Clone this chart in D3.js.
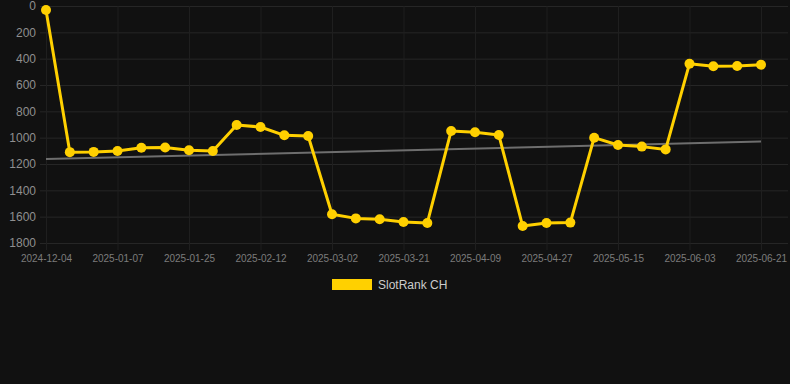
<!DOCTYPE html>
<html>
<head>
<meta charset="utf-8">
<script src="https://cdn.jsdelivr.net/npm/d3@7"></script>
<style>
html,body{margin:0;padding:0;background:#111111;}
svg{display:block;}
</style>
</head>
<body>
<svg id="chart" width="790" height="384"></svg>
<script>
const categories = [
  "2024-12-04","2024-12-15","2024-12-26","2025-01-07","2025-01-13","2025-01-19",
  "2025-01-25","2025-01-31","2025-02-06","2025-02-12","2025-02-18","2025-02-24",
  "2025-03-02","2025-03-08","2025-03-14","2025-03-21","2025-03-27","2025-04-03",
  "2025-04-09","2025-04-15","2025-04-21","2025-04-27","2025-05-03","2025-05-09",
  "2025-05-15","2025-05-21","2025-05-27","2025-06-03","2025-06-09","2025-06-15",
  "2025-06-21"
];
const rankValues = [
  30,1110,1108,1101,1076,1075,1096,1101,904,919,982,987,
  1582,1613,1620,1640,1648,949,959,980,1671,1648,1645,
  1000,1056,1068,1089,438,458,456,446
];
const trendValues = [1162, 1030];
const tickLabels = ["2024-12-04","2025-01-07","2025-01-25","2025-02-12","2025-03-02",
  "2025-03-21","2025-04-09","2025-04-27","2025-05-15","2025-06-03","2025-06-21"];
const yTicks = [0,200,400,600,800,1000,1200,1400,1600,1800];
const seriesName = "SlotRank CH";

(function () {
const svg = d3.select("#chart");
const mLeft = 46, mRight = 761, mTop = 6, mBottom = 243;

const x = d3.scalePoint().domain(categories).range([mLeft, mRight]);
const y = d3.scaleLinear().domain([0, 1800]).range([mTop, mBottom]);

// horizontal grid
const yAxis = d3.axisLeft(y).tickValues(yTicks).tickFormat(d3.format("d"))
  .tickSize(-(788 - mLeft)).tickPadding(10);
const gy = svg.append("g").attr("transform", `translate(${mLeft},0)`).call(yAxis);
gy.select(".domain").remove();
gy.selectAll(".tick line").attr("stroke", "#262626").attr("stroke-width", 1).attr("x1", -6);
gy.selectAll(".tick text").attr("fill", "#8f8f8f").attr("font-size", "12px")
  .attr("font-family", "Liberation Sans, Arial, sans-serif");

// vertical grid
const xAxis = d3.axisBottom(x).tickValues(tickLabels).tickSize(-(mBottom - mTop)).tickPadding(17);
const gx = svg.append("g").attr("transform", `translate(0,${mBottom})`).call(xAxis);
gx.select(".domain").remove();
gx.selectAll(".tick line").attr("stroke", "#1f1f1f").attr("stroke-width", 1).attr("y1", 7);
gx.selectAll(".tick text").attr("fill", "#7c7c7c").attr("font-size", "10px")
  .attr("font-family", "Liberation Sans, Arial, sans-serif").attr("dy", "0.2em");

// trend line
const trend = [0, categories.length - 1].map((i, k) => ({c: categories[i], v: trendValues[k]}));
svg.append("path")
  .datum(trend)
  .attr("fill", "none")
  .attr("stroke", "#6e6e6e")
  .attr("stroke-width", 2)
  .attr("d", d3.line().x(d => x(d.c)).y(d => y(d.v)));

// series
const data = categories.map((c, i) => ({c, v: rankValues[i]}));
svg.append("path")
  .datum(data)
  .attr("fill", "none")
  .attr("stroke", "#FFD000")
  .attr("stroke-width", 3)
  .attr("stroke-linejoin", "round")
  .attr("d", d3.line().x(d => x(d.c)).y(d => y(d.v)));
svg.append("g").selectAll("circle").data(data).join("circle")
  .attr("cx", d => x(d.c)).attr("cy", d => y(d.v)).attr("r", 5)
  .attr("fill", "#FFD000");

// legend
const lg = svg.append("g");
lg.append("rect").attr("x", 332).attr("y", 279).attr("width", 40).attr("height", 11)
  .attr("fill", "#FFD000");
lg.append("text").attr("x", 378).attr("y", 288.5).text(seriesName)
  .attr("fill", "#cccccc").attr("font-size", "12px")
  .attr("font-family", "Liberation Sans, Arial, sans-serif");
})();
</script>
</body>
</html>
